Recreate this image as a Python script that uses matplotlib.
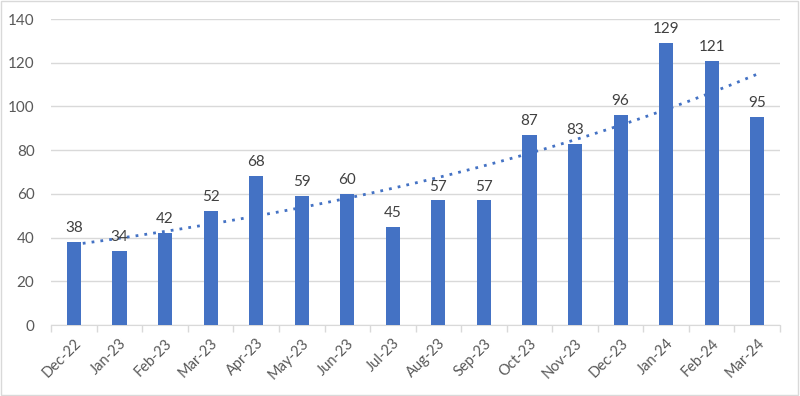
import numpy as np
import matplotlib.pyplot as plt
from matplotlib.patches import Rectangle

# datos
meses = ["Dec-22", "Jan-23", "Feb-23", "Mar-23", "Apr-23", "May-23", "Jun-23", "Jul-23",
         "Aug-23", "Sep-23", "Oct-23", "Nov-23", "Dec-23", "Jan-24", "Feb-24", "Mar-24"]
valores = [38, 34, 42, 52, 68, 59, 60, 45, 57, 57, 87, 83, 96, 129, 121, 95]
y_ticks = [0, 20, 40, 60, 80, 100, 120, 140]

plt.rcParams["font.family"] = ["Lato", "DejaVu Sans"]
gris_texto = "#595959"
gris_linea = "#d9d9d9"
azul = "#4472c4"

fig = plt.figure(figsize=(8, 3.96), dpi=100)
ax = fig.add_axes([0.064, 0.179, 0.911, 0.773])

x = np.arange(len(meses))
ax.bar(x, valores, width=0.31, color=azul, zorder=3)

# tendencia exponencial (como la de Excel)
b, a = np.polyfit(x, np.log(valores), 1)
xt = np.linspace(0, len(meses) - 1, 200)
ax.plot(xt, np.exp(a + b * xt), color=azul, linestyle=(0, (1, 2.2)),
        linewidth=2, zorder=2)

for xi, v in zip(x, valores):
    ax.annotate(str(v), (xi, v), xytext=(0, 5), textcoords="offset points",
                ha="center", va="bottom", fontsize=11, color="#404040")

ax.set_xlim(-0.5, len(meses) - 0.5)
ax.set_ylim(0, 140)
ax.set_yticks(y_ticks)
ax.tick_params(axis="y", length=0, pad=12, labelsize=11, labelcolor=gris_texto)
ax.yaxis.grid(True, color=gris_linea, linewidth=1)
ax.set_axisbelow(True)

ax.set_xticks(x)
ax.set_xticklabels(meses, rotation=45, ha="right", rotation_mode="anchor")
ax.tick_params(axis="x", length=0, pad=8, labelsize=10.5, labelcolor=gris_texto)
ax.set_xticks(np.arange(-0.5, len(meses)), minor=True)
ax.tick_params(axis="x", which="minor", length=5, color=gris_linea, width=1)

for lado in ["top", "right", "left"]:
    ax.spines[lado].set_visible(False)
ax.spines["bottom"].set_color(gris_linea)

# marco del grafico
fig.patches.append(Rectangle((0.001, 0.002), 0.997, 0.995, transform=fig.transFigure,
                             fill=False, edgecolor=gris_linea, linewidth=1))

plt.savefig("out.png", dpi=100)
